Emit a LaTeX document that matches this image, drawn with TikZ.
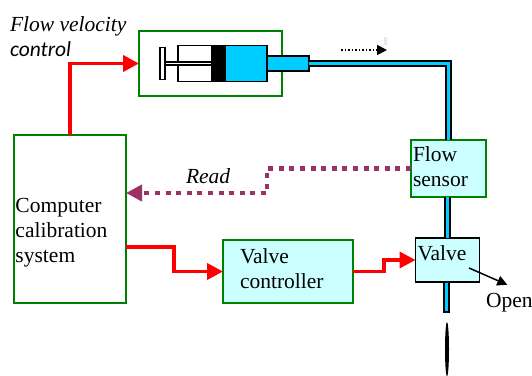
\documentclass[tikz,border=0pt]{standalone}
\usepackage{fontspec}
\usepackage{xcolor}
\setmainfont{Liberation Serif}
\newfontfamily\controlfont{Carlito}
\usetikzlibrary{
  arrows.meta,
  positioning,
  shapes.geometric
}
\definecolor{boxgreen}{HTML}{008000}
\definecolor{boxcyan}{HTML}{CCFFFF}
\definecolor{pipecyan}{HTML}{00CCFF}
\definecolor{readpurple}{HTML}{993366}
\tikzset{
  textbox/.style={draw=boxgreen, line width=1.75pt, inner ysep=0pt, outer sep=0pt, align=left},
  part/.style={draw, line width=1.5pt, inner sep=0pt, outer sep=0pt},
  textlabel/.style={inner sep=0pt, outer sep=0pt, align=left},
  pipe/.style={draw, line width=1.75pt, double=pipecyan, double distance=3.5pt},
  redline/.style={draw=red, line width=3.75pt, -{Triangle[length=16pt,width=16pt]}},
  readline/.style={draw=readpurple, line width=4.75pt, dash pattern=on 5pt off 5.6pt,
    -{Triangle[length=16pt,width=16pt]}},
  smallarrow/.style={line width=1.5pt, -{Triangle[length=10pt,width=10pt]}}
}

\begin{document}
\begin{tikzpicture}[font=\fontsize{21.5}{25}\selectfont]
  % Keep the page at the size of the picture.
  \useasboundingbox (0pt,0pt) rectangle (532pt,-375pt);

  % Create the three boxes on the left and at the top.
  \node [textbox, inner xsep=1.5pt, text width=109pt, minimum height=168pt] at (70pt,-219pt) (compsys)
    {Computer\\calibration\\system\vspace{-28pt}};
  \node [textbox, minimum width=143pt, minimum height=65pt,
    above right=39pt and 13pt of compsys.north east] (syringebox) {};
  \node [textbox, fill=boxcyan, inner xsep=17pt, text width=96pt, minimum height=63pt,
    above right=0pt and 97pt of compsys.south east] (valvectrl) {Valve\\controller\vspace{6pt}};

  % Create the sensor and the valve, on the line of the pipe.
  \node [textbox, fill=boxcyan, inner xsep=2pt, text width=71pt, minimum height=57pt,
    above right=43pt and 58pt of valvectrl.north east] (flowsensor) {Flow\\sensor\vspace{4pt}};
  \node [textbox, draw=black, fill=boxcyan, inner xsep=2pt, text width=60pt, minimum height=44pt,
    below=41pt of flowsensor, xshift=-1pt] (valve) {Valve\vspace{14pt}};

  % Create the syringe, part after part, inside its box.
  \node [part, fill=white, minimum width=89pt, minimum height=36pt,
    right=39pt of syringebox.west] (barrel) {};
  \node [part, fill=black, minimum width=13pt, minimum height=36pt,
    right=34pt of barrel.west] (piston) {};
  \node [part, fill=pipecyan, minimum width=42pt, minimum height=36pt,
    right=0pt of piston] (chamber) {};
  \node [part, fill=pipecyan, minimum width=42pt, minimum height=15pt,
    right=0pt of chamber] (nozzle) {};
  \node [part, fill=white, minimum width=47pt, minimum height=3pt,
    left=0pt of piston] (rod) {};
  \node [part, fill=white, minimum width=5pt, minimum height=32pt,
    left=0pt of rod] (handle) {};

  % Create the end of the pipe and the thin stream below it.
  \node [part, fill=pipecyan, minimum width=5pt, minimum height=30pt,
    below=0pt of valve, xshift=-1pt] (outlet) {};
  \node [ellipse, fill=black, inner sep=0pt, minimum width=4pt, minimum height=54pt,
    below=10pt of outlet, xshift=0.5pt] (stream) {};

  % Create the labels.
  \node [textlabel, above right=78pt and -4pt of compsys.north west] (flowlabel)
    {\itshape Flow velocity\\{\controlfont\itshape control}};
  \node [textlabel, above right=36pt and 60pt of compsys.east, anchor=base west] (readlabel)
    {\itshape Read};
  \node [textlabel, below right=25pt and 6.5pt of valve.south east, anchor=base west] (openlabel)
    {Open};

  % Create the free ends of the two small arrows.
  \coordinate [above right=6pt and 32pt of nozzle.north east] (flowstart);
  \coordinate [right=46pt of flowstart] (flowend);
  \coordinate [above right=14pt and -10.5pt of valve.south east] (openstart);

  % Draw the pipe, from the syringe to the sensor and on to the valve.
  \draw [pipe] (nozzle.east) -| (flowsensor.north);
  \draw [pipe] (valve.north |- flowsensor.south) -- (valve.north);

  % Draw the red control lines.
  \draw [redline] (compsys.north) |- (syringebox.west);
  \draw [redline] ([yshift=-28pt]compsys.east) -- ++(48pt,0pt) |- (valvectrl.west);
  \draw [redline] (valvectrl.east) -- ++(31pt,0pt) |- (valve.west);

  % Draw the dotted reading line, from the sensor to the computer.
  \draw [readline] (flowsensor.west) -- ++(-144pt,0pt) |- ([yshift=26pt]compsys.east);

  % Draw the two small arrows, and the faint mark by the flow arrow.
  \draw [smallarrow, dotted] (flowstart) -- (flowend);
  \fill [black!9] ([xshift=-3pt,yshift=5pt]flowend) rectangle ([yshift=13pt]flowend);
  \draw [smallarrow] (openstart) -- ([xshift=-2pt,yshift=8pt]openlabel.north);
\end{tikzpicture}
\end{document}
